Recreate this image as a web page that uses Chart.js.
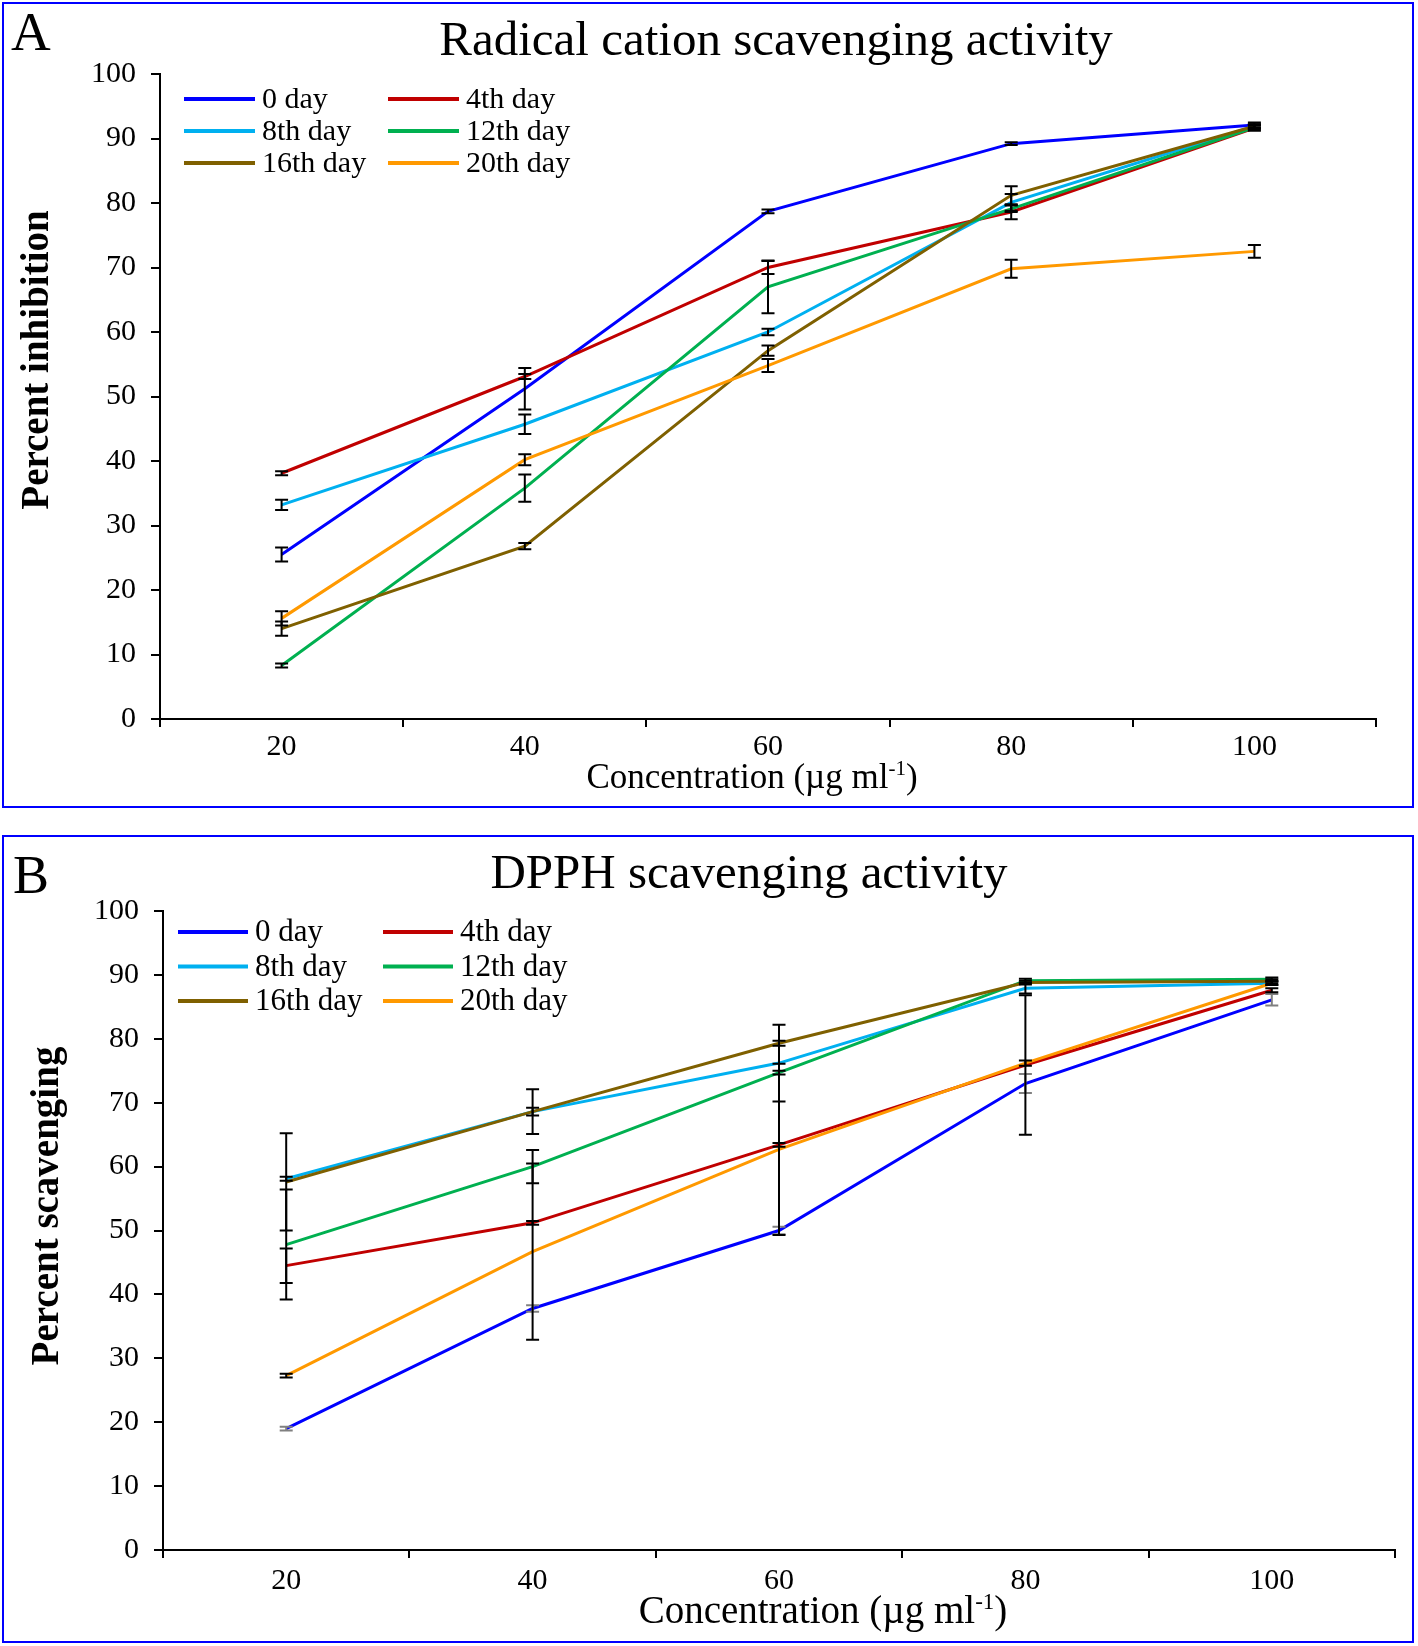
<!DOCTYPE html>
<html>
<head>
<meta charset="utf-8">
<title>Radical cation and DPPH scavenging activity</title>
<script src="https://cdn.jsdelivr.net/npm/chart.js@4.4.1/dist/chart.umd.min.js"></script>
<style>
  html,body{margin:0;padding:0;background:#fff;}
  body{width:1418px;height:1646px;position:relative;overflow:hidden;}
  .frame{position:absolute;border:2px solid #0000ff;box-sizing:border-box;}
  .wrap{position:absolute;left:0;width:1418px;}
  canvas{display:block;}
</style>
</head>
<body>
<div class="frame" style="left:2px;top:2px;width:1412px;height:806px"></div>
<div class="frame" style="left:2px;top:835px;width:1412px;height:808px"></div>
<div class="wrap" style="top:0;height:830px"><canvas id="chartA" width="1418" height="830"></canvas></div>
<div class="wrap" style="top:830px;height:816px"><canvas id="chartB" width="1418" height="816"></canvas></div>
<script>
// concentrations (µg/ml)
const conc = ['20', '40', '60', '80', '100'];
const seriesNames = ['0 day', '4th day', '8th day', '12th day', '16th day', '20th day'];
const yTicks = [0, 10, 20, 30, 40, 50, 60, 70, 80, 90, 100];

// A: radical cation scavenging, percent inhibition
const abts0   = [25.5, 51.2, 78.7, 89.2, 92.1];
const abts4   = [38.1, 53.1, 70.0, 78.6, 91.6];
const abts8   = [33.2, 45.7, 60.0, 80.1, 91.9];
const abts12  = [8.3, 35.8, 67.0, 79.1, 91.7];
const abts16  = [14.0, 26.8, 57.1, 81.2, 91.9];
const abts20  = [15.6, 40.2, 54.8, 69.8, 72.5];
const abtsErr0  = [1.1, 3.2, 0.3, 0.2, 0.4];
const abtsErr4  = [0.3, 0.4, 1.0, 1.1, 0.4];
const abtsErr8  = [0.8, 1.5, 0.5, 1.3, 0.3];
const abtsErr12 = [0.3, 2.1, 4.1, 0.5, 0.3];
const abtsErr16 = [1.1, 0.5, 0.8, 1.4, 0.3];
const abtsErr20 = [1.1, 0.85, 1.0, 1.4, 1.0];

// B: DPPH scavenging, percent scavenging
const dpph0   = [19.0, 37.8, 50.0, 73.0, 86.1];
const dpph4   = [44.5, 51.2, 63.4, 75.9, 87.6];
const dpph8   = [58.1, 68.6, 76.2, 87.9, 88.7];
const dpph12  = [47.8, 60.0, 74.7, 89.1, 89.3];
const dpph16  = [57.6, 68.6, 79.3, 88.8, 89.0];
const dpph20  = [27.3, 46.7, 62.7, 76.2, 88.7];
const dpphErr0  = [0.3, 0.5, 0.6, 1.5, 0.9];
const dpphErr4  = [2.7, 0.3, 0.3, 10.9, 0.3];
const dpphErr8  = [0.3, 0.6, 6.0, 0.8, 0.3];
const dpphErr12 = [8.6, 2.6, 0.3, 0.3, 0.3];
const dpphErr16 = [7.6, 3.5, 0.4, 0.3, 0.3];
const dpphErr20 = [0.3, 13.8, 13.4, 0.4, 0.3];

const colors = ['#0000ff', '#c00000', '#00b0f0', '#00b050', '#7f6000', '#ff9900'];
const SERIF = '"Liberation Serif", "Times New Roman", serif';

Chart.defaults.font.family = SERIF;
Chart.defaults.color = '#000';

// error bars, drawn over the lines like Excel does
const errorBars = {
  id: 'errorBars',
  afterDatasetsDraw(chart){
    const y = chart.scales.y, ctx = chart.ctx;
    chart.data.datasets.forEach((ds, i)=>{
      if(!ds.errors) return;
      const meta = chart.getDatasetMeta(i);
      ctx.save();
      ctx.strokeStyle = ds.errorColor || '#000';
      ctx.lineWidth = 2;
      meta.data.forEach((pt, j)=>{
        const v = ds.data[j], e = ds.errors[j];
        const top = y.getPixelForValue(v + e), bot = y.getPixelForValue(v - e);
        ctx.beginPath();
        ctx.moveTo(pt.x, top); ctx.lineTo(pt.x, bot);
        ctx.moveTo(pt.x - 6.5, top); ctx.lineTo(pt.x + 6.5, top);
        ctx.moveTo(pt.x - 6.5, bot); ctx.lineTo(pt.x + 6.5, bot);
        ctx.stroke();
      });
      ctx.restore();
    });
  }
};

// panel letter, title, axis titles and the 2-column legend
const decor = {
  id: 'decor',
  afterDraw(chart, args, o){
    const ctx = chart.ctx;
    ctx.save();
    ctx.fillStyle = '#000';
    ctx.textBaseline = 'alphabetic';

    ctx.font = `${o.letterSize}px ${SERIF}`;
    ctx.textAlign = 'left';
    ctx.fillText(o.letter, o.letterX, o.letterY);

    ctx.font = `${o.titleSize}px ${SERIF}`;
    ctx.textAlign = 'center';
    ctx.fillText(o.title, o.titleX, o.titleY);

    ctx.save();
    ctx.translate(o.yLabelX, o.yLabelY);
    ctx.rotate(-Math.PI / 2);
    ctx.font = `bold ${o.yLabelSize}px ${SERIF}`;
    ctx.textAlign = 'center';
    ctx.fillText(o.yLabel, 0, 0);
    ctx.restore();

    // "Concentration (µg ml-1)" with raised -1
    const s = o.xLabelSize;
    const main = 'Concentration (\u00b5g ml', sup = '-1', tail = ')';
    ctx.textAlign = 'left';
    ctx.font = `${s}px ${SERIF}`;
    const wMain = ctx.measureText(main).width, wTail = ctx.measureText(tail).width;
    ctx.font = `${Math.round(s * 0.6)}px ${SERIF}`;
    const wSup = ctx.measureText(sup).width;
    let x = o.xLabelX - (wMain + wSup + wTail) / 2;
    ctx.font = `${s}px ${SERIF}`;
    ctx.fillText(main, x, o.xLabelY);
    x += wMain;
    ctx.font = `${Math.round(s * 0.6)}px ${SERIF}`;
    ctx.fillText(sup, x, o.xLabelY - s * 0.36);
    x += wSup;
    ctx.font = `${s}px ${SERIF}`;
    ctx.fillText(tail, x, o.xLabelY);

    const L = o.legend;
    ctx.font = `${L.size}px ${SERIF}`;
    ctx.textBaseline = 'middle';
    chart.data.datasets.forEach((ds, i)=>{
      const col = i % 2, row = Math.floor(i / 2);
      const lx = L.x[col], ly = L.y0 + row * L.dy;
      ctx.strokeStyle = ds.borderColor;
      ctx.lineWidth = 4;
      ctx.beginPath();
      ctx.moveTo(lx, ly); ctx.lineTo(lx + L.len, ly);
      ctx.stroke();
      ctx.fillText(ds.label, lx + L.len + L.gap, ly + 1);
    });
    ctx.restore();
  }
};

function makeChart(id, values, errs, errColors, cfg){
  const datasets = values.map((d, i)=>({
    label: seriesNames[i],
    data: d,
    errors: errs[i],
    errorColor: errColors[i],
    borderColor: colors[i],
    backgroundColor: colors[i],
    borderWidth: 3,
    pointRadius: 0,
    tension: 0,
    fill: false,
    order: values.length - i
  }));

  const tickFont = {family: SERIF, size: 30};

  return new Chart(document.getElementById(id), {
    type: 'line',
    data: {labels: conc, datasets},
    options: {
      responsive: false,
      animation: false,
      events: [],
      layout: {padding: {left: 0, top: cfg.top, right: cfg.right, bottom: 0}},
      plugins: {
        legend: {display: false},
        title: {display: false},
        tooltip: {enabled: false},
        decor: cfg.decor
      },
      scales: {
        x: {
          type: 'category',
          offset: true,
          grid: {offset: true, drawOnChartArea: false, tickLength: 8, color: '#000', lineWidth: 2},
          border: {display: true, color: '#000', width: 2},
          ticks: {color: '#000', font: tickFont, padding: cfg.xPad, maxRotation: 0, autoSkip: false},
          afterFit(sc){ sc.height = cfg.xHeight; }
        },
        y: {
          min: yTicks[0],
          max: yTicks[yTicks.length - 1],
          afterBuildTicks(sc){ sc.ticks = yTicks.map(v=>({value: v})); },
          grid: {drawOnChartArea: false, tickLength: 9, color: '#000', lineWidth: 2},
          border: {display: true, color: '#000', width: 2},
          ticks: {color: '#000', font: tickFont, padding: 15},
          afterFit(sc){ sc.width = cfg.yWidth; }
        }
      }
    },
    plugins: [errorBars, decor]
  });
}

const blackErr = ['#000', '#000', '#000', '#000', '#000', '#000'];

makeChart('chartA',
  [abts0, abts4, abts8, abts12, abts16, abts20],
  [abtsErr0, abtsErr4, abtsErr8, abtsErr12, abtsErr16, abtsErr20],
  blackErr,
  {
    top: 74, right: 42, xHeight: 111, yWidth: 160, xPad: 2,
    decor: {
      letter: 'A', letterX: 11, letterY: 50, letterSize: 55,
      title: 'Radical cation scavenging activity', titleX: 776, titleY: 55, titleSize: 49,
      yLabel: 'Percent inhibition', yLabelX: 48, yLabelY: 360, yLabelSize: 39,
      xLabelX: 752, xLabelY: 788, xLabelSize: 35,
      legend: {x: [184, 388], len: 71, gap: 7, y0: 99, dy: 32, size: 30}
    }
  });

makeChart('chartB',
  [dpph0, dpph4, dpph8, dpph12, dpph16, dpph20],
  [dpphErr0, dpphErr4, dpphErr8, dpphErr12, dpphErr16, dpphErr20],
  ['#808080', '#000', '#000', '#000', '#000', '#000'],
  {
    top: 81, right: 23, xHeight: 96, yWidth: 163, xPad: 5,
    decor: {
      letter: 'B', letterX: 13, letterY: 63, letterSize: 54,
      title: 'DPPH scavenging activity', titleX: 749, titleY: 58, titleSize: 49,
      yLabel: 'Percent scavenging', yLabelX: 58, yLabelY: 376, yLabelSize: 39,
      xLabelX: 823, xLabelY: 793, xLabelSize: 39,
      legend: {x: [178, 383], len: 70, gap: 7, y0: 102, dy: 34.5, size: 31}
    }
  });
</script>
</body>
</html>
